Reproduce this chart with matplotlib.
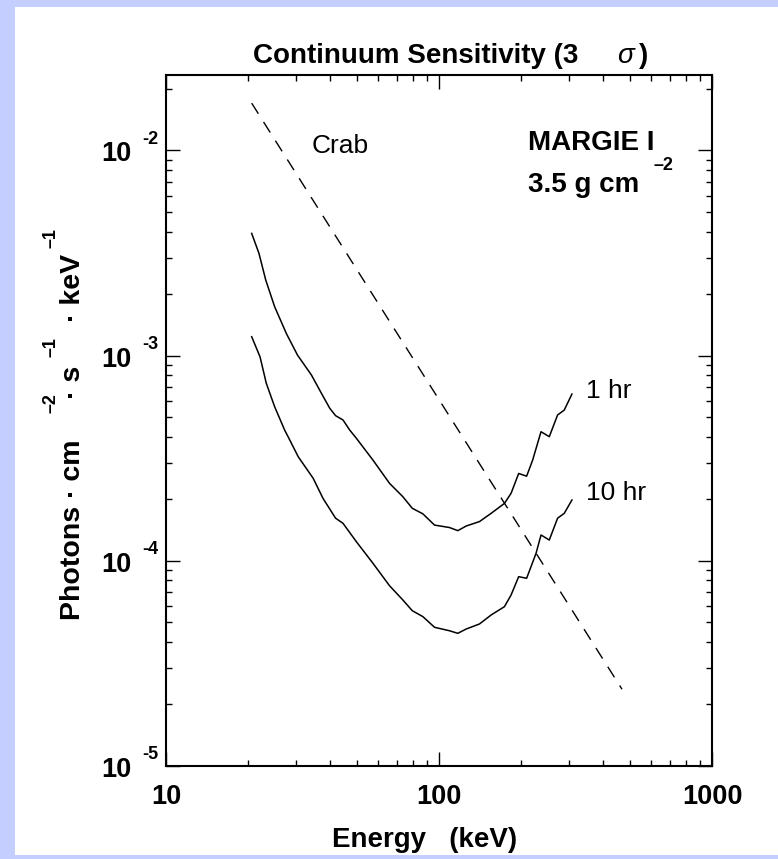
import matplotlib
matplotlib.use("Agg")
import matplotlib.pyplot as plt
from matplotlib.patches import Rectangle
from matplotlib.ticker import LogLocator, NullFormatter
from matplotlib.transforms import offset_copy

plt.rcParams["font.family"] = ["Liberation Sans", "DejaVu Sans"]
plt.rcParams["lines.scale_dashes"] = False

# Data
energy_1hr = [20.6, 21.9, 23.2, 25.0, 27.6, 30.3, 34.1, 37.1, 39.8, 41.8,
              44.5, 47.1, 49.8, 57.3, 65.9, 73.7, 79.8, 87.3, 96.3, 109.2,
              117.2, 125.8, 140.7, 155.2, 173.6, 183.7, 195.8, 209.4, 220.3, 236.4,
              253.5, 271.9, 287.6, 306.9]
flux_1hr = [3.94e-3, 3.15e-3, 2.33e-3, 1.73e-3, 1.28e-3, 1.006e-3, 8.03e-4, 6.54e-4, 5.53e-4, 5.09e-4,
            4.85e-4, 4.33e-4, 3.95e-4, 3.09e-4, 2.38e-4, 2.05e-4, 1.80e-4, 1.69e-4, 1.49e-4, 1.45e-4,
            1.40e-4, 1.475e-4, 1.55e-4, 1.70e-4, 1.90e-4, 2.13e-4, 2.66e-4, 2.58e-4, 3.09e-4, 4.25e-4,
            4.02e-4, 5.13e-4, 5.42e-4, 6.49e-4]

energy_10hr = [20.6, 22.1, 23.3, 25.0, 27.2, 28.0, 30.5, 34.6, 37.6, 41.8,
               44.5, 49.8, 57.3, 65.9, 73.7, 79.8, 87.3, 96.3, 109.2, 117.2,
               125.8, 140.7, 155.2, 173.6, 183.7, 195.8, 209.4, 226.7, 236.4, 253.5,
               271.9, 287.6, 306.9]
flux_10hr = [1.235e-3, 9.86e-4, 7.32e-4, 5.63e-4, 4.33e-4, 4.02e-4, 3.21e-4, 2.52e-4, 2.01e-4, 1.61e-4,
             1.52e-4, 1.237e-4, 9.70e-5, 7.54e-5, 6.43e-5, 5.70e-5, 5.33e-5, 4.73e-5, 4.55e-5, 4.42e-5,
             4.64e-5, 4.91e-5, 5.43e-5, 5.96e-5, 6.80e-5, 8.35e-5, 8.20e-5, 1.085e-4, 1.333e-4, 1.26e-4,
             1.61e-4, 1.70e-4, 1.975e-4]

crab_energy = [20.6, 468.0]
crab_flux = [1.70e-2, 2.36e-5]

xtick_values = [10, 100, 1000]
xtick_labels = ["10", "100", "1000"]
ytick_values = [1e-5, 1e-4, 1e-3, 1e-2]
ytick_exps = ["-5", "-4", "-3", "-2"]

W, H = 778, 859
fig = plt.figure(figsize=(W / 100, H / 100), dpi=100, facecolor="#c4ceff")
fig.patches.append(Rectangle((15 / W, 4 / H), 1 - 15 / W, 1 - 10.5 / H,
                             transform=fig.transFigure, facecolor="white",
                             edgecolor="none", zorder=-10))

ax = fig.add_axes([166 / W, (H - 765.7) / H, 546 / W, 691 / H])
ax.set_xscale("log")
ax.set_yscale("log")
ax.set_xlim(10, 1000)
ax.set_ylim(1e-5, 2.34e-2)

ax.plot(energy_1hr, flux_1hr, color="black", lw=1.1)
ax.plot(energy_10hr, flux_10hr, color="black", lw=1.1)
ax.plot(crab_energy, crab_flux, color="black", lw=1.0, dashes=(9.0, 7.0))

# axes / ticks
for sp in ax.spines.values():
    sp.set_linewidth(1.5)
ax.set_xticks(xtick_values, labels=xtick_labels)
ax.xaxis.set_minor_locator(LogLocator(base=10, subs=range(2, 10)))
ax.xaxis.set_minor_formatter(NullFormatter())
ax.set_yticks(ytick_values, labels=[""] * len(ytick_values))
ax.yaxis.set_minor_locator(LogLocator(base=10, subs=range(2, 10)))
ax.yaxis.set_minor_formatter(NullFormatter())
ax.tick_params(which="both", direction="in", top=True, right=True, width=1.0)
ax.tick_params(which="major", length=10)
ax.tick_params(which="minor", length=4.5)
ax.tick_params(axis="x", which="major", pad=13, labelsize=19.5)
for lab in ax.get_xticklabels():
    lab.set_fontweight("bold")

# y tick labels drawn as "10" plus a raised exponent
ytr = ax.get_yaxis_transform()
for v, e in zip(ytick_values, ytick_exps):
    ax.text(-0.064, v, "10", transform=offset_copy(ytr, fig=fig, y=-4, units="dots"),
            ha="right", va="center", fontsize=19.5, fontweight="bold")
    ax.text(-0.044, v, e, transform=offset_copy(ytr, fig=fig, y=11, units="dots"),
            ha="left", va="center", fontsize=13, fontweight="bold")

# annotations
ax.text(0.2674, 0.8871, "Crab", transform=ax.transAxes, fontsize=19, va="baseline")
ax.text(0.663, 0.891, "MARGIE I", transform=ax.transAxes, fontsize=20,
        fontweight="bold", va="baseline")
ax.text(0.663, 0.8307, "3.5 g cm", transform=ax.transAxes, fontsize=20,
        fontweight="bold", va="baseline")
ax.text(0.892, 0.869, "\u20132", transform=ax.transAxes, fontsize=13,
        fontweight="bold", va="center")
ax.text(0.769, 0.5317, "1 hr", transform=ax.transAxes, fontsize=19, va="baseline")
ax.text(0.769, 0.3845, "10 hr", transform=ax.transAxes, fontsize=19, va="baseline")

# title
fig.text(253 / W, 1 - 62.7 / H, "Continuum Sensitivity (3", fontsize=20,
         fontweight="bold", va="baseline")
fig.text(617 / W, 1 - 62.7 / H, "\u03c3", fontsize=20, style="italic",
         va="baseline")
fig.text(639 / W, 1 - 62.7 / H, ")", fontsize=20, fontweight="bold", va="baseline")

# x label
fig.text(425 / W, 1 - 847 / H, "Energy   (keV)", fontsize=20, fontweight="bold",
         ha="center", va="baseline")

# y label pieces (rotated)
main_x = 72.5 / W
sup_x = 51 / W
fig.text(main_x, 1 - 530 / H, "Photons \u00b7 cm", rotation=90, fontsize=20.5,
         fontweight="bold", ha="center", va="center")
fig.text(sup_x, 1 - 403 / H, "\u20132", rotation=90, fontsize=13,
         fontweight="bold", ha="center", va="center")
fig.text(main_x, 1 - 382 / H, "\u00b7 s", rotation=90, fontsize=20.5,
         fontweight="bold", ha="center", va="center")
fig.text(sup_x, 1 - 347 / H, "\u20131", rotation=90, fontsize=13,
         fontweight="bold", ha="center", va="center")
fig.text(main_x, 1 - 288 / H, "\u00b7 keV", rotation=90, fontsize=20.5,
         fontweight="bold", ha="center", va="center")
fig.text(sup_x, 1 - 238 / H, "\u20131", rotation=90, fontsize=13,
         fontweight="bold", ha="center", va="center")

fig.savefig("out.png", dpi=100, facecolor=fig.get_facecolor())
